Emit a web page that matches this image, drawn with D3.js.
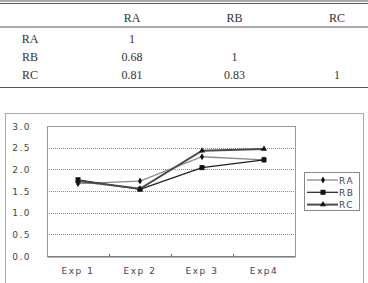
<!DOCTYPE html>
<html>
<head>
<meta charset="utf-8">
<script src="https://cdn.jsdelivr.net/npm/d3@7"></script>
<style>
  body { margin: 0; background: #fff; }
  svg { display: block; }
</style>
</head>
<body>
<div class="chart"></div>
<script>
// correlation table
const tableCols = ["RA", "RB", "RC"]
const tableRows = ["RA", "RB", "RC"]
const tableVals = [
  ["1", "", ""],
  ["0.68", "1", ""],
  ["0.81", "0.83", "1"]
]

// line chart
const exps = ["Exp 1", "Exp 2", "Exp 3", "Exp4"]
const seriesNames = ["RA", "RB", "RC"]
const RA = [1.67, 1.73, 2.29, 2.22]
const RB = [1.76, 1.54, 2.04, 2.22]
const RC = [1.73, 1.55, 2.43, 2.47]
const yTicks = [0, 0.5, 1, 1.5, 2, 2.5, 3]

const series = [
  {name: "RA", values: RA, color: "#8a8a8a", width: 1.3, shape: "diamond"},
  {name: "RB", values: RB, color: "#1e1e1e", width: 1.2, shape: "square"},
  {name: "RC", values: RC, color: "#4a4a4a", width: 2, shape: "triangle"}
]

const W = 368, H = 283
const svg = d3.select(".chart").append("svg")
    .attr("width", W)
    .attr("height", H)

// ---- table ----
const serif = "'Liberation Serif', 'DejaVu Serif', serif"
const colX = d3.scalePoint().domain(tableCols).range([132, 337])
const rowY = d3.scalePoint().domain(tableRows).range([39, 75])

svg.append("line").attr("x1", 0).attr("x2", W).attr("y1", 1).attr("y2", 1)
    .attr("stroke", "#555").attr("stroke-width", 1)
svg.append("line").attr("x1", 0).attr("x2", W).attr("y1", 3.5).attr("y2", 3.5)
    .attr("stroke", "#555").attr("stroke-width", 1)
svg.append("line").attr("x1", 0).attr("x2", W).attr("y1", 27).attr("y2", 27)
    .attr("stroke", "#555").attr("stroke-width", 1)
svg.append("line").attr("x1", 0).attr("x2", W).attr("y1", 87.5).attr("y2", 87.5)
    .attr("stroke", "#555").attr("stroke-width", 1)

svg.selectAll(".colhead").data(tableCols).enter().append("text")
    .attr("class", "colhead")
    .attr("x", d => colX(d))
    .attr("y", 22)
    .attr("text-anchor", "middle")
    .attr("font-family", serif)
    .attr("font-size", 12)
    .attr("fill", "#333")
    .text(d => d)

tableRows.forEach((r, i) => {
  svg.append("text")
      .attr("x", 30).attr("y", rowY(r) + 4)
      .attr("text-anchor", "middle")
      .attr("font-family", serif).attr("font-size", 12).attr("fill", "#333")
      .text(r)
  tableVals[i].forEach((v, j) => {
    if (v === "") return
    svg.append("text")
        .attr("x", colX(tableCols[j])).attr("y", rowY(r) + 4)
        .attr("text-anchor", "middle")
        .attr("font-family", serif).attr("font-size", 12).attr("fill", "#333")
        .text(v)
  })
})

// ---- chart ----
const sans = "'DejaVu Sans', sans-serif"
svg.append("rect")
    .attr("x", 5.5).attr("y", 113.5)
    .attr("width", 358).attr("height", 180)
    .attr("fill", "none").attr("stroke", "#aaa")

const plot = {left: 47, right: 295, top: 126, bottom: 256}

const xScale = d3.scaleBand().domain(exps).range([plot.left, plot.right])
const yScale = d3.scaleLinear().domain([0, 3]).range([plot.bottom, plot.top])

// grid
svg.selectAll(".grid").data(yTicks.filter(d => d > 0 && d < 3)).enter().append("line")
    .attr("x1", plot.left).attr("x2", plot.right)
    .attr("y1", d => Math.round(yScale(d)) + 0.5)
    .attr("y2", d => Math.round(yScale(d)) + 0.5)
    .attr("stroke", "#888")
    .attr("stroke-dasharray", "1,1")

svg.append("rect")
    .attr("x", plot.left + 0.5).attr("y", plot.top + 0.5)
    .attr("width", plot.right - plot.left).attr("height", plot.bottom - plot.top)
    .attr("fill", "none").attr("stroke", "#999")

// y labels
svg.selectAll(".ylab").data(yTicks).enter().append("text")
    .attr("x", 31)
    .attr("y", d => yScale(d) + 3.5)
    .attr("text-anchor", "end")
    .attr("font-family", sans).attr("font-size", 9)
    .attr("letter-spacing", 1.5)
    .attr("fill", "#444")
    .text(d => d.toFixed(1))

// x axis ticks (inside) and labels
const xAxis = d3.axisBottom(xScale).tickSize(0).tickPadding(11)
const gx = svg.append("g")
    .attr("transform", `translate(0, ${plot.bottom + 0.5})`)
    .call(xAxis)
gx.select(".domain").attr("stroke", "#666")
gx.selectAll("text")
    .attr("font-family", sans).attr("font-size", 9)
    .attr("letter-spacing", 1.5).attr("fill", "#444")
svg.selectAll(".xtick").data(exps.slice(1)).enter().append("line")
    .attr("x1", d => Math.round(xScale(d)) + 0.5)
    .attr("x2", d => Math.round(xScale(d)) + 0.5)
    .attr("y1", plot.bottom - 2).attr("y2", plot.bottom)
    .attr("stroke", "#666")

const cx = d => xScale(d) + xScale.bandwidth() / 2
const line = d3.line().x((v, i) => cx(exps[i])).y(v => yScale(v))

function marker(g, shape, x, y, color) {
  if (shape === "square") {
    g.append("rect").attr("x", x - 2.5).attr("y", y - 2.5)
        .attr("width", 5).attr("height", 5).attr("fill", color)
  } else if (shape === "diamond") {
    g.append("path").attr("d", d3.symbol(d3.symbolDiamond, 14)())
        .attr("transform", `translate(${x},${y})`).attr("fill", color)
  } else {
    g.append("path").attr("d", d3.symbol(d3.symbolTriangle, 16)())
        .attr("transform", `translate(${x},${y})`).attr("fill", color)
  }
}

series.forEach(s => {
  svg.append("path")
      .attr("d", line(s.values))
      .attr("fill", "none")
      .attr("stroke", s.color)
      .attr("stroke-width", s.width)
  const g = svg.append("g")
  s.values.forEach((v, i) => marker(g, s.shape, cx(exps[i]), yScale(v), "#111"))
})

// legend
svg.append("rect")
    .attr("x", 304.5).attr("y", 172.5)
    .attr("width", 55).attr("height", 38)
    .attr("fill", "#fff").attr("stroke", "#888")
series.forEach((s, i) => {
  const y = 180 + i * 12.3
  svg.append("line")
      .attr("x1", 307).attr("x2", 338)
      .attr("y1", y).attr("y2", y)
      .attr("stroke", s.color).attr("stroke-width", s.width)
  marker(svg, s.shape, 323, y, "#111")
  svg.append("text")
      .attr("x", 339).attr("y", y + 3.5)
      .attr("font-family", sans).attr("font-size", 9)
      .attr("letter-spacing", 1.5).attr("fill", "#444")
      .text(s.name)
})
</script>
</body>
</html>
